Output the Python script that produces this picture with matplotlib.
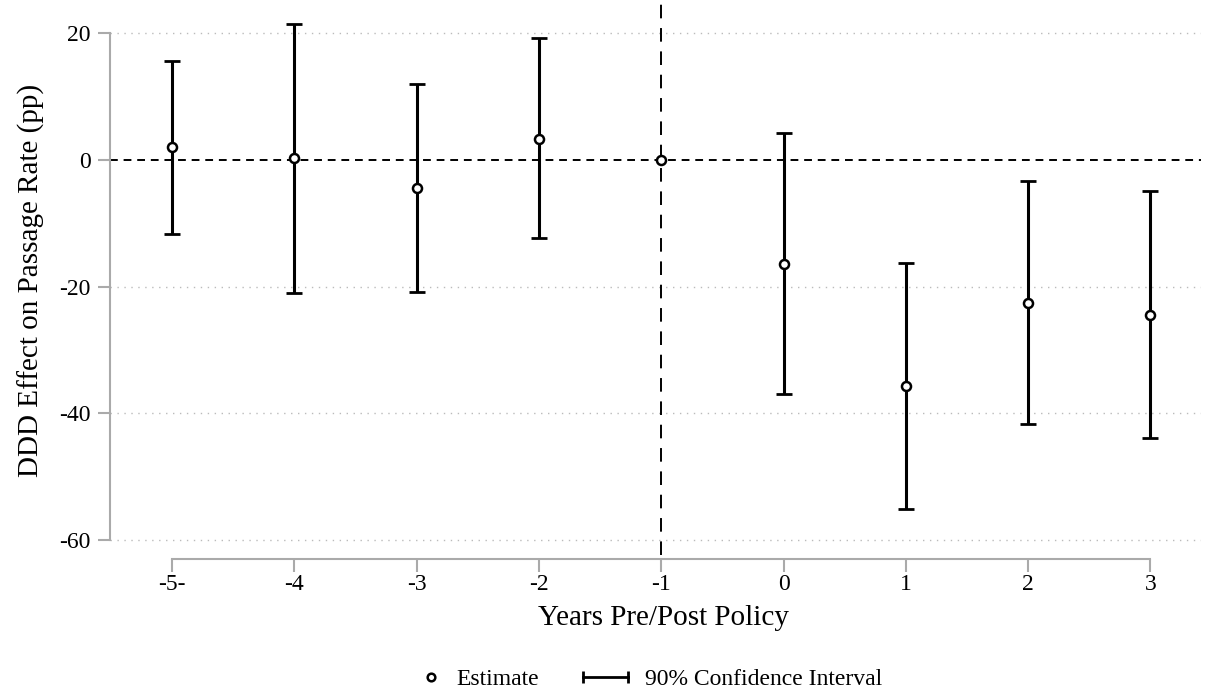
import numpy as np
import matplotlib
matplotlib.use("Agg")
import matplotlib.pyplot as plt
from matplotlib.lines import Line2D
from matplotlib.legend_handler import HandlerLine2D

plt.rcParams['font.family'] = ['Liberation Serif', 'DejaVu Serif']
plt.rcParams['axes.unicode_minus'] = False

# --- data ---
years = [-5, -4, -3, -2, -1, 0, 1, 2, 3]
tick_labels = ["-5-", "-4", "-3", "-2", "-1", "0", "1", "2", "3"]
estimate = [2.0, 0.2, -4.4, 3.3, 0.0, -16.4, -35.7, -22.6, -24.4]
ci_upper = [15.6, 21.4, 12.0, 19.2, 0.0, 4.2, -16.3, -3.4, -5.0]
ci_lower = [-11.7, -21.0, -20.8, -12.3, 0.0, -36.9, -55.0, -41.7, -43.8]

est = np.array(estimate)
err = np.array([est - np.array(ci_lower), np.array(ci_upper) - est])
has_ci = np.array(ci_upper) != np.array(ci_lower)

fig = plt.figure(figsize=(12.09, 6.92), dpi=100)
ax = fig.add_axes([0.091, 0.21, 0.902, 0.77])

# gridlines
for yv in [20, 0, -20, -40, -60]:
    if yv != 0:
        ax.axhline(yv, color='#bbbbbb', lw=1.0, ls=(0, (1, 4)), zorder=0)

ax.axhline(0, color='black', lw=1.4, ls=(0, (4, 3)), zorder=1)
ax.axvline(-1, ymin=-0.016, ymax=1.03, color='black', lw=1.4,
           ls=(0, (7, 5)), clip_on=False, zorder=1)

ax.errorbar(np.array(years)[has_ci], est[has_ci], yerr=err[:, has_ci],
            fmt='none', ecolor='black', elinewidth=2.2, capsize=5.5,
            capthick=2.0, zorder=2)
ax.plot(years, estimate, 'o', mfc='white', mec='black', mew=1.8,
        ms=6.5, ls='none', zorder=3)

ax.set_xlim(-5.507, 3.41)
ax.set_ylim(-61, 23)

ax.set_xticks(years)
ax.set_xticklabels(tick_labels)
ax.set_yticks([20, 0, -20, -40, -60])

for side in ['top', 'right']:
    ax.spines[side].set_visible(False)
ax.spines['left'].set_bounds(-60, 20)
ax.spines['left'].set_color('#aaaaaa')
ax.spines['left'].set_linewidth(1.5)
ax.spines['bottom'].set_position(('outward', 9))
ax.spines['bottom'].set_bounds(-5, 3)
ax.spines['bottom'].set_color('#aaaaaa')
ax.spines['bottom'].set_linewidth(1.5)
ax.tick_params(axis='both', colors='#aaaaaa', labelcolor='black',
               labelsize=17, length=9, width=1.5)
ax.tick_params(axis='x', pad=2)
ax.tick_params(axis='y', pad=5)

ax.set_xlabel("Years Pre/Post Policy", fontsize=21, labelpad=4)
ax.xaxis.set_label_coords(0.5 + 8 / 1090, -0.133)
ax.xaxis.label.set_verticalalignment('center')
ax.set_ylabel("DDD Effect on Passage Rate (pp)", fontsize=21, labelpad=10)

# legend: marker sits close to its text, CI handle is a capped bar
h_est = Line2D([], [], marker='o', mfc='white', mec='black', mew=1.8,
               ms=5.5, ls='none')
h_ci = Line2D([], [], color='black', lw=2.0, marker='|', ms=9, mew=2.0)
fig.legend([h_est, h_ci], ["Estimate", "90% Confidence Interval"],
           handler_map={h_est: HandlerLine2D(numpoints=1, xpad=1.23),
                        h_ci: HandlerLine2D(numpoints=2, marker_pad=0.0)},
           loc='center', bbox_to_anchor=(0.528, 0.018), ncol=2,
           frameon=False, fontsize=17, handlelength=1.9,
           columnspacing=1.9, handletextpad=0.72)

fig.savefig("out.png", dpi=100)
